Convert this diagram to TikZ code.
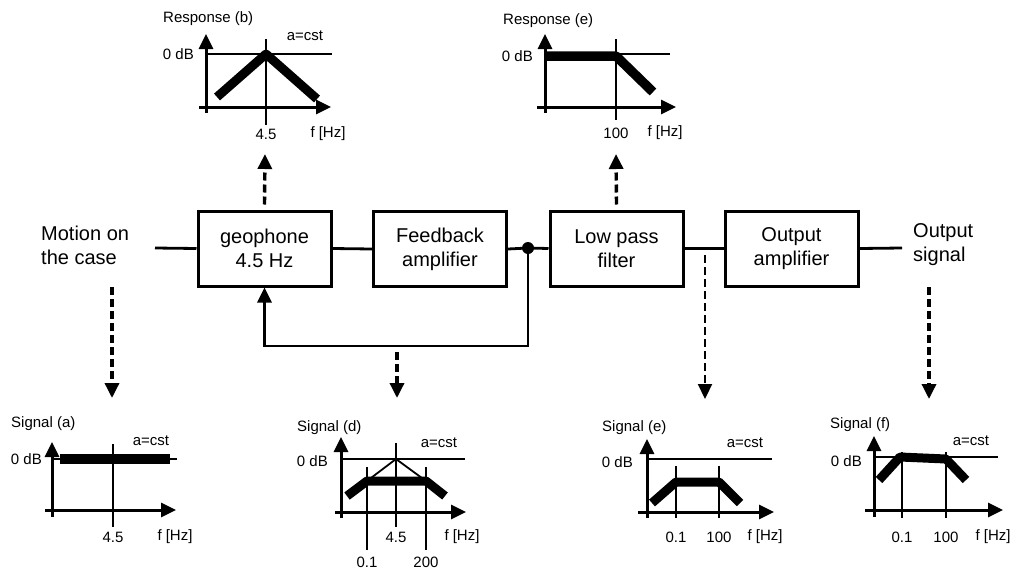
\documentclass[tikz,border=0pt]{standalone}
\usepackage{fontspec}
\setmainfont{Liberation Sans}
\usetikzlibrary{arrows.meta}
\begin{document}
\begin{tikzpicture}[x=1pt,y=-1pt,
  block/.style={draw,line width=3pt,minimum width=133pt,minimum height=75pt,
    align=center,inner sep=0pt,font=\fontsize{20}{24}\selectfont},
  big/.style={align=left,inner sep=0pt,font=\fontsize{20}{24}\selectfont},
  small/.style={inner sep=0pt,font=\fontsize{15}{18}\selectfont},
  wire/.style={line width=2.8pt},
  tip/.style={-{Triangle[length=15pt,width=14pt]}},
  dasharrow/.style={line width=3.4pt,dash pattern=on 8pt off 4pt,
    -{Triangle[length=15pt,width=14pt]}},
  thindash/.style={line width=2.2pt,dash pattern=on 8pt off 4pt,
    -{Triangle[length=15pt,width=14pt]}},
  axis/.style={line width=3pt,-{Triangle[length=15pt,width=14pt]}},
  ref/.style={line width=2.4pt},
  mark45/.style={line width=2.8pt},
  guide/.style={line width=1.8pt},
  curve/.style={line width=9pt,line join=round},
]
\useasboundingbox (0,0) rectangle (1023,573);

% ---------- signal chain ----------
\node[block] (geo) at (264.5,248.5) {geophone\\4.5 Hz};
\node[block] (fb)  at (440,249)     {Feedback\\amplifier};
\node[block] (lpf) at (616.5,248.5) {Low pass\\filter};
\node[block] (oa)  at (791.5,248.5) {Output\\amplifier};
\node[big,anchor=west] (motion) at (41,245) {Motion on\\the case};
\node[big,anchor=west] (outsig) at (913,245) {Output\\signal};

\coordinate (in)  at (155,248);
\coordinate (out) at (902,248);
\coordinate (tap) at (528,248);
\coordinate (fbc) at (528,346);

\draw[wire] (in) -- (geo.west);
\draw[wire] (geo.east) -- (fb.west);
\draw[wire] (fb.east) -- (tap) -- (lpf.west);
\draw[wire] (lpf.east) -- (oa.west);
\draw[wire] (oa.east) -- (out);
\fill (tap) circle (6pt);
\draw[wire,tip] (tap) -- (fbc) -| (geo.south);

% ---------- dashed pointers to the response / signal plots ----------
\coordinate (upb) at (265,154);
\coordinate (upe) at (616,154);
\coordinate (sa0) at (112,287);  \coordinate (sa1) at (112,398);
\coordinate (sd0) at (397,352);  \coordinate (sd1) at (397,398);
\coordinate (se0) at (705,255);  \coordinate (se1) at (705,399);
\coordinate (sf0) at (929,287);  \coordinate (sf1) at (929,399);

\draw[dasharrow] ([yshift=5pt]geo.north) -- (upb);
\draw[dasharrow] ([yshift=5pt]lpf.north) -- (upe);
\draw[dasharrow] (sa0) -- (sa1);
\draw[dasharrow] (sd0) -- (sd1);
\draw[thindash]  (se0) -- (se1);
\draw[dasharrow] (sf0) -- (sf1);

% ---------- response (b) ----------
\draw[axis] (206,113) -- (206,34);
\draw[axis] (199,107) -- (331,107);
\draw[ref] (206,54) -- (332,54);
\draw[mark45] (266,39) -- (266,125);
\draw[curve] (217,97) -- (266,54) -- (317,99);
\node[small,anchor=west] (tb) at (163,19) {Response (b)};
\node[small] (cb) at (305,36) {a=cst};
\node[small,anchor=east] (zb) at (194,54) {0 dB};
\node[small] (xb) at (266,134) {4.5};
\node[small] (fbz) at (328,134) {f [Hz]};

% ---------- response (e) ----------
\draw[axis] (545,113) -- (545,34);
\draw[axis] (537,107) -- (676,107);
\draw[ref] (545,54) -- (670,54);
\draw[mark45] (616,39) -- (616,120);
\draw[curve,line width=9.5pt] (545,56) -- (616,56) -- (653,92);
\node[small,anchor=west] (te) at (503,21) {Response (e)};
\node[small,anchor=east] (ze) at (533,56) {0 dB};
\node[small] (xe) at (616,133) {100};
\node[small] (fez) at (665,133) {f [Hz]};

% ---------- signal (a) ----------
\draw[axis] (52,517) -- (52,442);
\draw[axis] (45,510) -- (176,510);
\draw[ref] (52,459) -- (177,459);
\draw[mark45] (113,444) -- (113,527);
\draw[curve,line width=9.5pt] (60,459) -- (170,459);
\node[small,anchor=west] (ta) at (11,424) {Signal (a)};
\node[small] (ca) at (151,441) {a=cst};
\node[small,anchor=east] (za) at (42,459) {0 dB};
\node[small] (xa) at (113,537) {4.5};
\node[small] (faz) at (175,537) {f [Hz]};

% ---------- signal (d) ----------
\draw[axis] (341,518) -- (341,437);
\draw[axis] (335,512) -- (466,512);
\draw[ref] (341,459) -- (465,459);
\draw[mark45] (396,443) -- (396,527);
\draw[guide] (367,467) -- (367,550);
\draw[guide] (426,467) -- (426,550);
\draw[guide] (367,481) -- (396,459) -- (426,481);
\draw[curve] (347,496) -- (367,481) -- (426,481) -- (445,496);
\node[small,anchor=west] (td) at (297,428) {Signal (d)};
\node[small] (cd) at (439,443) {a=cst};
\node[small,anchor=east] (zd) at (328,461) {0 dB};
\node[small] (xd) at (396,537) {4.5};
\node[small] (fdz) at (462,537) {f [Hz]};
\node[small] (ld) at (367,562) {0.1};
\node[small] (hd) at (426,562) {200};

% ---------- signal (e) ----------
\draw[axis] (647,518) -- (647,439);
\draw[axis] (638,512) -- (774,512);
\draw[ref] (647,459) -- (772,459);
\draw[guide] (676,466) -- (676,518);
\draw[guide] (719,466) -- (719,518);
\draw[curve] (652,503) -- (676,482) -- (719,482) -- (740,503);
\node[small,anchor=west] (tse) at (602,428) {Signal (e)};
\node[small] (cse) at (745,443) {a=cst};
\node[small,anchor=east] (zse) at (633,462) {0 dB};
\node[small] (lse) at (676,537) {0.1};
\node[small] (hse) at (719,537) {100};
\node[small] (fsez) at (765,537) {f [Hz]};

% ---------- signal (f) ----------
\draw[axis] (874,517) -- (874,436);
\draw[axis] (865,510) -- (1003,510);
\draw[ref] (874,457) -- (998,457);
\draw[guide] (902,452) -- (902,518);
\draw[guide] (946,452) -- (946,518);
\draw[curve] (879,480) -- (900,457) -- (946,459) -- (966,480);
\node[small,anchor=west] (tf) at (830,425) {Signal (f)};
\node[small] (cf) at (971,441) {a=cst};
\node[small,anchor=east] (zf) at (862,461) {0 dB};
\node[small] (lf) at (902,537) {0.1};
\node[small] (hf) at (946,537) {100};
\node[small] (ffz) at (993,537) {f [Hz]};
\end{tikzpicture}
\end{document}
